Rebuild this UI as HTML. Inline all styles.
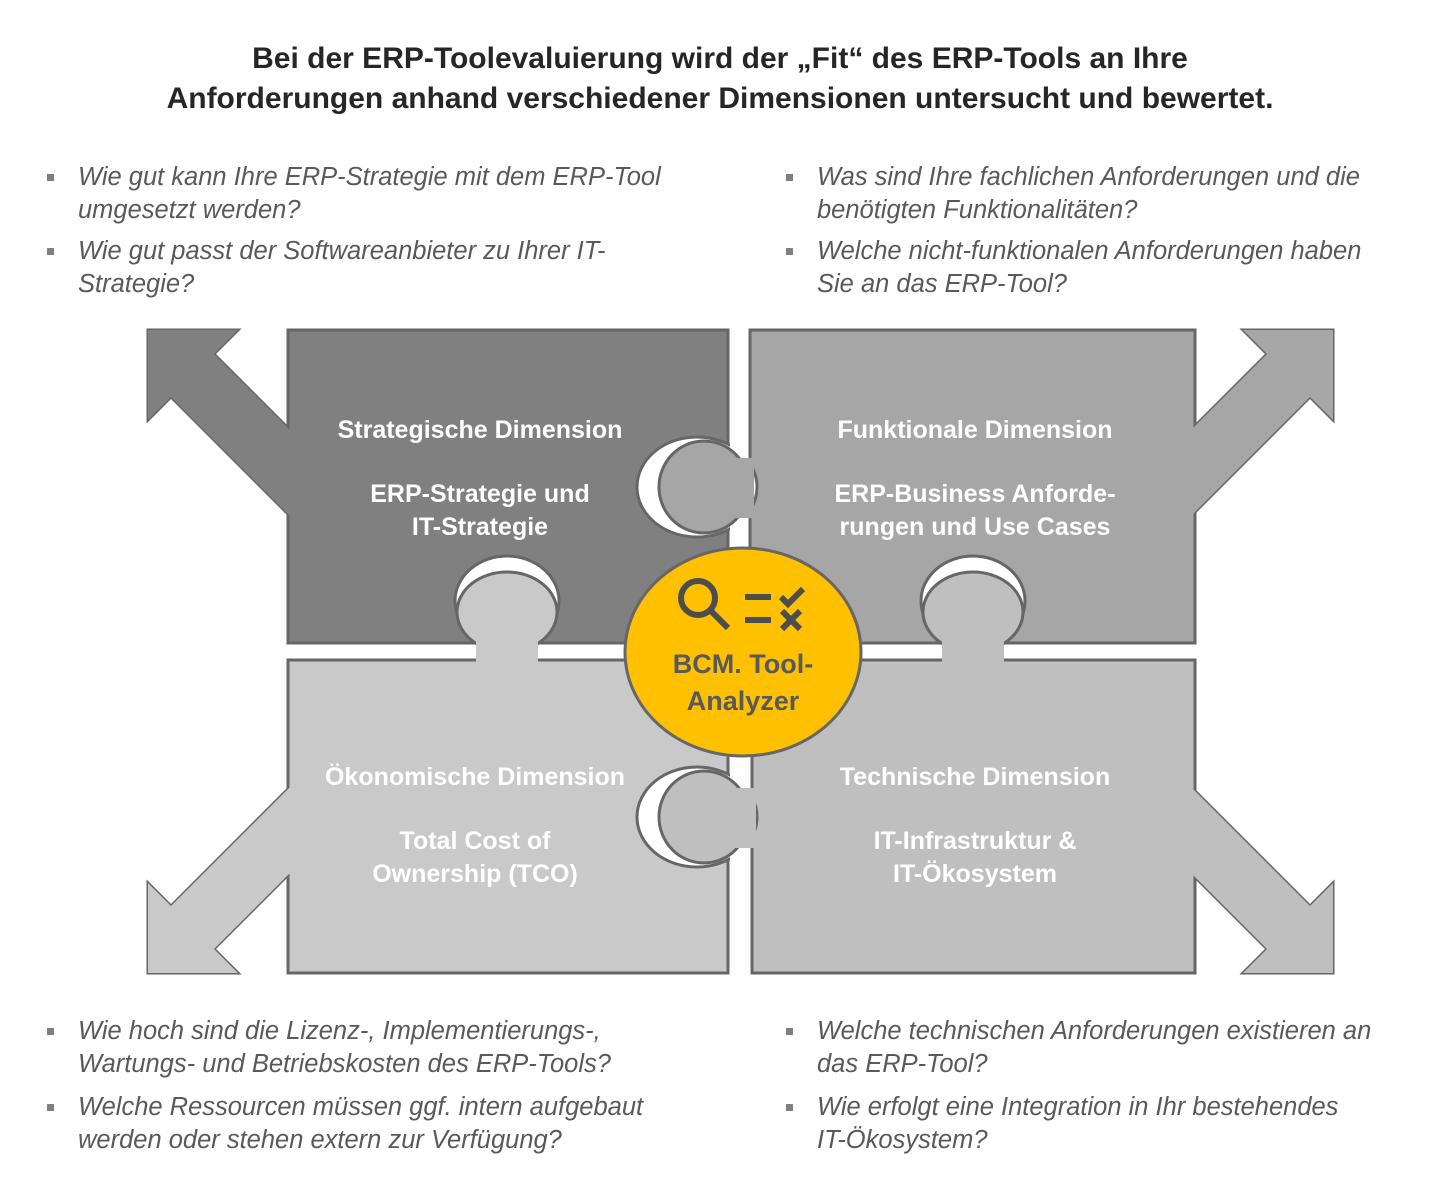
<!DOCTYPE html>
<html><head><meta charset="utf-8"><style>
body{margin:0;width:1440px;height:1200px;background:#fff;position:relative;font-family:"Liberation Sans",sans-serif;overflow:hidden}
.t{position:absolute;left:0;width:1440px;text-align:center;font-weight:bold;font-size:30px;color:#262626}
.b{position:absolute;font-style:italic;font-size:25.5px;color:#595959;line-height:33px;white-space:nowrap}
.b:before{content:"";position:absolute;left:-31px;top:13px;width:7px;height:7px;background:#7f7f7f}
svg{position:absolute;left:0;top:0}
</style></head><body>
<div class="t" style="top:42px">Bei der ERP-Toolevaluierung wird der „Fit“ des ERP-Tools an Ihre</div>
<div class="t" style="top:82px">Anforderungen anhand verschiedener Dimensionen untersucht und bewertet.</div>

<div class="b" style="left:78px;top:161px">Wie gut kann Ihre ERP-Strategie mit dem ERP-Tool<br>umgesetzt werden?</div>
<div class="b" style="left:78px;top:235px">Wie gut passt der Softwareanbieter zu Ihrer IT-<br>Strategie?</div>
<div class="b" style="left:817px;top:161px">Was sind Ihre fachlichen Anforderungen und die<br>benötigten Funktionalitäten?</div>
<div class="b" style="left:817px;top:235px">Welche nicht-funktionalen Anforderungen haben<br>Sie an das ERP-Tool?</div>
<div class="b" style="left:78px;top:1015px">Wie hoch sind die Lizenz-, Implementierungs-,<br>Wartungs- und Betriebskosten des ERP-Tools?</div>
<div class="b" style="left:78px;top:1091px">Welche Ressourcen müssen ggf. intern aufgebaut<br>werden oder stehen extern zur Verfügung?</div>
<div class="b" style="left:817px;top:1015px">Welche technischen Anforderungen existieren an<br>das ERP-Tool?</div>
<div class="b" style="left:817px;top:1091px">Wie erfolgt eine Integration in Ihr bestehendes<br>IT-Ökosystem?</div>

<svg width="1440" height="1200" viewBox="0 0 1440 1200">
<defs>
<polygon id="arr" points="148,330 238,330 214,354 400,540 400,626 171,397 148,420"/>
</defs>
<g stroke="#666" stroke-width="3" stroke-linejoin="miter">
<use href="#arr" fill="#808080"/>
<use href="#arr" fill="#a6a6a6" transform="translate(1481,0) scale(-1,1)"/>
<use href="#arr" fill="#c9c9c9" transform="translate(0,1303) scale(1,-1)"/>
<use href="#arr" fill="#bfbfbf" transform="translate(1481,1303) scale(-1,-1)"/>
<rect x="288" y="330" width="440" height="313" fill="#808080"/>
<rect x="750" y="330" width="445" height="313" fill="#a6a6a6"/>
<rect x="288" y="660" width="440" height="313" fill="#c9c9c9"/>
<rect x="752" y="660" width="443" height="313" fill="#bfbfbf"/>
</g>
<g stroke="none">
<use href="#arr" fill="#808080"/>
<use href="#arr" fill="#a6a6a6" transform="translate(1481,0) scale(-1,1)"/>
<use href="#arr" fill="#c9c9c9" transform="translate(0,1303) scale(1,-1)"/>
<use href="#arr" fill="#bfbfbf" transform="translate(1481,1303) scale(-1,-1)"/>
</g>
<!-- sockets -->
<g fill="#fff" stroke="#666" stroke-width="3">
<ellipse cx="697" cy="487" rx="60" ry="50"/>
<ellipse cx="507" cy="601" rx="52" ry="45"/>
<ellipse cx="973" cy="601" rx="52" ry="45"/>
<ellipse cx="697" cy="817" rx="60" ry="50"/>
</g>
<rect x="730" y="430" width="18" height="115" fill="#fff"/>
<rect x="730" y="760" width="20" height="115" fill="#fff"/>
<rect x="440" y="645" width="135" height="13" fill="#fff"/>
<rect x="905" y="645" width="135" height="13" fill="#fff"/>
<!-- knobs -->
<g stroke="#666" stroke-width="3">
<ellipse cx="704" cy="487" rx="45" ry="46" fill="#a6a6a6"/>
<ellipse cx="507" cy="612" rx="50" ry="40" fill="#c9c9c9"/>
<ellipse cx="973" cy="612" rx="50" ry="40" fill="#bfbfbf"/>
<ellipse cx="704" cy="817" rx="45" ry="46" fill="#bfbfbf"/>
</g>
<rect x="700" y="458" width="54" height="60" fill="#a6a6a6"/>
<rect x="476" y="610" width="62" height="53" fill="#c9c9c9"/>
<rect x="942" y="610" width="62" height="53" fill="#bfbfbf"/>
<rect x="700" y="788" width="56" height="60" fill="#bfbfbf"/>
<ellipse cx="743" cy="652" rx="118" ry="104" fill="#ffc000" stroke="#666" stroke-width="3"/>
<g stroke="#4d4d4d" stroke-width="6" fill="none" stroke-linecap="butt">
<circle cx="698" cy="598" r="17"/>
<line x1="711" y1="611" x2="728" y2="628"/>
<line x1="745" y1="597" x2="771" y2="597"/>
<line x1="745" y1="620" x2="771" y2="620"/>
<polyline points="781,597 788,604 803,589"/>
<line x1="782" y1="611" x2="800" y2="629"/>
<line x1="800" y1="611" x2="782" y2="629"/>
</g>
<g font-family="Liberation Sans, sans-serif" font-weight="bold" text-anchor="middle">
<text x="743" y="673" font-size="27" fill="#595959">BCM. Tool-</text>
<text x="743" y="710" font-size="27" fill="#595959">Analyzer</text>
<g fill="#fff" font-size="25">
<text x="480" y="438">Strategische Dimension</text>
<text x="480" y="502">ERP-Strategie und</text>
<text x="480" y="535">IT-Strategie</text>
<text x="975" y="438">Funktionale Dimension</text>
<text x="975" y="502">ERP-Business Anforde-</text>
<text x="975" y="535">rungen und Use Cases</text>
<text x="475" y="785">Ökonomische Dimension</text>
<text x="475" y="849">Total Cost of</text>
<text x="475" y="882">Ownership (TCO)</text>
<text x="975" y="785">Technische Dimension</text>
<text x="975" y="849">IT-Infrastruktur &amp;</text>
<text x="975" y="882">IT-Ökosystem</text>
</g>
</g>
</svg>
</body></html>
